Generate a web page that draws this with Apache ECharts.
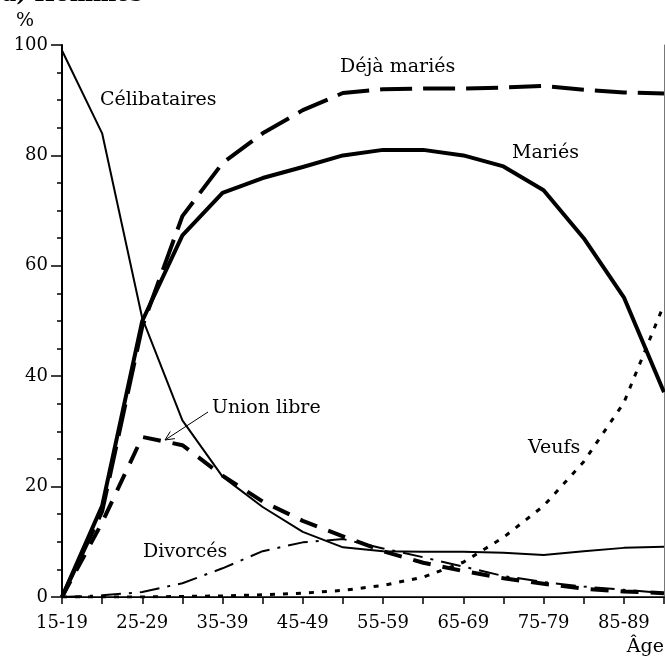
<!DOCTYPE html>
<html>
<head>
<meta charset="utf-8">
<script src="https://cdn.jsdelivr.net/npm/echarts@6/dist/echarts.min.js"></script>
<style>
  html, body { margin: 0; padding: 0; background: #fff; }
  #chart { width: 665px; height: 656px; }
</style>
</head>
<body>
<div id="chart"></div>
<script>
// groupes d'âge (axe X)
var ages = ['15-19', '20-24', '25-29', '30-34', '35-39', '40-44', '45-49', '50-54',
  '55-59', '60-64', '65-69', '70-74', '75-79', '80-84', '85-89', '90-94'];
var yTicks = [0, 20, 40, 60, 80, 100];

// valeurs (%)
var celibataires = [99, 84, 50.5, 32, 21.8, 16.3, 11.8, 9, 8.3, 8.2, 8.2, 8.0, 7.6, 8.3, 8.9, 9.1];
var maries = [0, 16.5, 50, 65.5, 73.2, 75.9, 77.9, 80, 81, 81, 80, 78, 73.7, 65, 54.3, 37.1];
var dejaMaries = [0, 15.5, 49, 69, 78.6, 84, 88.2, 91.3, 92, 92.1, 92.1, 92.3, 92.6, 91.9, 91.4, 91.2];
var unionLibre = [0, 13.5, 29, 27.5, 22, 17.3, 13.8, 11, 8.3, 6.2, 4.7, 3.4, 2.4, 1.5, 1.0, 0.7];
var divorces = [0, 0.3, 0.9, 2.5, 5.2, 8.3, 9.9, 10.5, 8.8, 7.2, 5.5, 3.8, 2.7, 1.9, 1.3, 0.7];
var veufs = [0, 0, 0, 0.1, 0.2, 0.4, 0.7, 1.2, 2.1, 3.6, 6.3, 10.8, 16.5, 24.5, 35.2, 53];

var FONT = 'DejaVu Serif';

function serie(name, data, width, type) {
  return {
    name: name,
    type: 'line',
    data: data,
    symbol: 'none',
    silent: true,
    lineStyle: { color: '#000', width: width, type: type, cap: 'butt', join: 'round' }
  };
}

function label(text, x, y, align) {
  return {
    type: 'text',
    z: 100,
    style: {
      text: text, x: x, y: y,
      fill: '#000',
      font: '19px "' + FONT + '"',
      textAlign: align || 'left',
      textVerticalAlign: 'middle'
    }
  };
}

// petite flèche ouverte pour "Union libre"
var ax0 = 208, ay0 = 412, ax1 = 165, ay1 = 440;
var ang = Math.atan2(ay0 - ay1, ax0 - ax1);
var head = 10, spread = 25 * Math.PI / 180;
var barbA = [ax1 + head * Math.cos(ang + spread), ay1 + head * Math.sin(ang + spread)];
var barbB = [ax1 + head * Math.cos(ang - spread), ay1 + head * Math.sin(ang - spread)];

var myChart = echarts.init(document.getElementById('chart'));
var option = {
  animation: false,
  backgroundColor: '#fff',
  grid: { left: 62, right: 1, top: 45, bottom: 59 },
  xAxis: [
    {
      type: 'category',
      data: ages,
      boundaryGap: false,
      axisLine: { lineStyle: { color: '#000', width: 1.5 } },
      axisTick: { show: true, interval: 0, length: 7, lineStyle: { color: '#000', width: 1.5 } },
      axisLabel: { interval: 1, margin: 17, color: '#000', fontSize: 18, fontFamily: FONT },
      splitLine: { show: false }
    },
    {
      // cadre du haut
      type: 'category',
      data: ages,
      position: 'top',
      boundaryGap: false,
      axisLine: { lineStyle: { color: '#000', width: 1 } },
      axisTick: { show: false },
      axisLabel: { show: false }
    }
  ],
  yAxis: [
    {
      type: 'value',
      min: yTicks[0],
      max: yTicks[yTicks.length - 1],
      interval: 20,
      axisLine: { show: true, lineStyle: { color: '#000', width: 2 } },
      axisTick: { show: true, length: 11, lineStyle: { color: '#000', width: 1.5 } },
      minorTick: { show: true, splitNumber: 4, length: 5, lineStyle: { color: '#000', width: 1.5 } },
      axisLabel: { margin: 14, color: '#000', fontSize: 18, fontFamily: FONT },
      splitLine: { show: false }
    },
    {
      // cadre de droite
      type: 'value',
      position: 'right',
      min: 0,
      max: 100,
      axisLine: { show: true, lineStyle: { color: '#777', width: 1 } },
      axisTick: { show: false },
      axisLabel: { show: false },
      splitLine: { show: false }
    }
  ],
  series: [
    serie('Célibataires', celibataires, 2, 'solid'),
    serie('Mariés', maries, 4, 'solid'),
    serie('Déjà mariés', dejaMaries, 4, [32, 11]),
    serie('Union libre', unionLibre, 4, [18, 12]),
    serie('Divorcés', divorces, 2, [20, 8, 3, 8]),
    serie('Veufs', veufs, 3, [5, 8])
  ],
  graphic: [
    {
      type: 'text', z: 100,
      style: { text: 'a) Hommes', x: 2, y: -5, fill: '#000', font: 'bold 22px "' + FONT + '"', textVerticalAlign: 'middle' }
    },
    label('%', 16, 21),
    label('Célibataires', 100, 100),
    label('Déjà mariés', 340, 67),
    label('Mariés', 512, 153),
    label('Union libre', 212, 408),
    label('Veufs', 528, 448),
    label('Divorcés', 143, 552),
    label('Âge', 664, 647, 'right'),
    {
      type: 'line', z: 100,
      shape: { x1: ax0, y1: ay0, x2: ax1, y2: ay1 },
      style: { stroke: '#000', lineWidth: 1 }
    },
    {
      type: 'polyline', z: 100,
      shape: { points: [barbA, [ax1, ay1], barbB] },
      style: { stroke: '#000', lineWidth: 1, fill: null }
    }
  ]
};
option && myChart.setOption(option);
</script>
</body>
</html>
